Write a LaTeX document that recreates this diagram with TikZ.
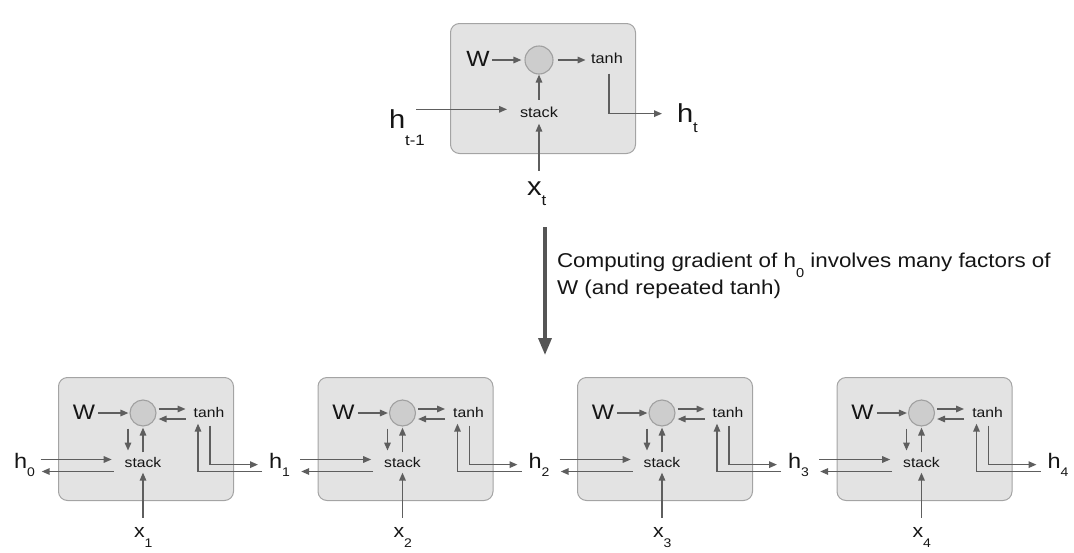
\documentclass[tikz,border=0pt]{standalone}
\usepackage{fontspec}
\setmainfont{Liberation Sans}[FakeStretch=1.12]
\usetikzlibrary{arrows.meta,calc}
\definecolor{boxfill}{HTML}{E3E3E3}
\definecolor{boxline}{HTML}{A4A4A4}
\definecolor{circfill}{HTML}{CDCDCD}
\definecolor{circline}{HTML}{A0A0A0}
\definecolor{arr}{HTML}{5E5E5E}
\definecolor{bigarr}{HTML}{555555}
\definecolor{txt}{HTML}{151515}
\newcommand{\fs}[1]{\fontsize{#1}{#1}\selectfont}
\newcommand{\sbx}[3]{\raisebox{-#1pt}{\fs{#2}#3}}
\begin{document}
\begin{tikzpicture}[x=1pt,y=-1pt,
  cell/.style={draw=boxline,fill=boxfill,rounded corners=9pt,line width=1pt,anchor=north west,inner sep=0pt},
  mul/.style={circle,draw=circline,fill=circfill,inner sep=0pt,line width=1.1pt},
  arw/.style={draw=arr,line width=1.5pt,-{Triangle[length=8pt,width=6.5pt]}},
  txtnode/.style={text=txt,inner sep=0pt,outer sep=0pt},
  lab/.style={txtnode,anchor=base west},
]
\useasboundingbox (0,0) rectangle (1074,552);

% ---------- top cell ----------
\node[cell,minimum width=185pt,minimum height=130pt] (tbox) at (450,23) {};
\node[txtnode,anchor=base,font=\fs{22}] (tW) at (478,66) {W};
\node[mul,minimum size=28pt] (tC) at (539,60) {};
\node[txtnode,anchor=base,font=\fs{14.5}] (tT) at (607,63.5) {tanh};
\node[txtnode,anchor=base,font=\fs{14.5}] (tS) at (539,117.5) {stack};
\node[lab,font=\fs{26}] (tHp) at (389,128) {h\sbx{17}{15}{t-1}};
\node[lab,font=\fs{26}] (tHt) at (677,122) {h\sbx{10}{15}{t}};
\node[lab,font=\fs{26}] (tX) at (527,195) {x\sbx{10}{15}{t}};

\draw[arw] ($(tC.west)+(-32,0)$) -- ($(tC.west)+(-3,0)$);
\draw[arw] ($(tC.east)+(4,0)$) -- ($(tC.east)+(32,0)$);
\draw[arw] ($(tS.north)+(0,-7)$) -- (tC.south);
\draw[arw] ($(tS.west)+(-104,-3)$) -- ($(tS.west)+(-13,-3)$);
\draw[arw] ($(tT.south)+(2,10)$) |- ($(tT.south)+(55,50)$);
\draw[arw] ($(tS.south)+(0,53)$) -- ($(tS.south)+(0,6)$);

% ---------- big arrow and caption ----------
\coordinate (ga) at (545,227);
\coordinate (gb) at (545,355);
\draw[draw=bigarr,line width=3.5pt,-{Triangle[length=17pt,width=13pt]}] (ga) -- (gb);
\node[lab,font=\fs{20}] (cap1) at (557,267) {Computing gradient of h\sbx{10}{13}{0} involves many factors of};
\node[lab,font=\fs{20}] (cap2) at (557,294) {W (and repeated tanh)};

% ---------- unrolled cells ----------
\node[lab,font=\fs{21}] (H0) at (14,468) {h\sbx{8}{12.5}{0}};
\foreach \i/\x in {1/58,2/317.5,3/577,4/836.5}{
  \node[cell,minimum width=175pt,minimum height=123pt] (box\i) at (\x,377) {};
  \node[txtnode,anchor=base,font=\fs{21}] (W\i) at (\x+26,419) {W};
  \node[mul,minimum size=26pt] (C\i) at (\x+85,413) {};
  \node[txtnode,anchor=base,font=\fs{14}] (T\i) at (\x+151,417.5) {tanh};
  \node[txtnode,anchor=base,font=\fs{14}] (S\i) at (\x+85,467.5) {stack};
  \node[lab,font=\fs{21}] (H\i) at (\x+211,468) {h\sbx{8}{12.5}{\i}};
  \node[lab,font=\fs{19}] (X\i) at (\x+76,537) {x\sbx{10}{12.5}{\i}};
  % W -> multiply
  \draw[arw] ($(C\i.west)+(-31,0)$) -- ($(C\i.west)+(-1,0)$);
  % multiply <-> tanh
  \draw[arw] ($(C\i.east)+(2,-4)$) -- ($(C\i.east)+(29,-4)$);
  \draw[arw] ($(C\i.east)+(29,6)$) -- ($(C\i.east)+(2,6)$);
  % multiply <-> stack
  \draw[arw] ($(C\i.south)+(-15,2)$) -- ($(C\i.south)+(-15,24)$);
  \draw[arw] ($(S\i.north)+(0,-5)$) -- ($(C\i.south)+(0,1)$);
  % h_{i-1} <-> stack
  \draw[arw] ($(S\i.west)+(-84,-3)$) -- ($(S\i.west)+(-13,-3)$);
  \draw[arw] ($(S\i.west)+(-11,9)$) -- ($(S\i.west)+(-83,9)$);
  % tanh <-> h_i
  \draw[arw] ($(T\i.south)+(1,8)$) |- ($(T\i.south)+(49,47)$);
  \draw[arw] ($(T\i.south)+(53,54)$) -| ($(T\i.south)+(-11,6)$);
  % x_i -> stack
  \draw[arw] ($(S\i.south)+(0,50)$) -- ($(S\i.south)+(0,5)$);
}
\end{tikzpicture}
\end{document}
